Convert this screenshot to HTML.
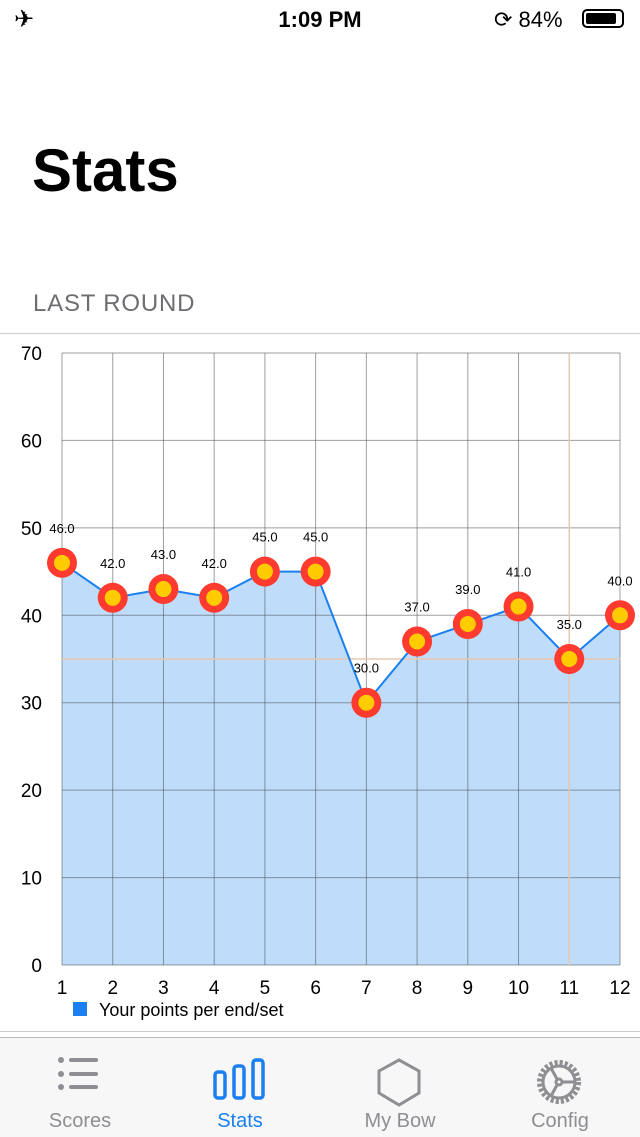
<!DOCTYPE html>
<html><head><meta charset="utf-8"><style>
body{margin:0;width:640px;height:1136px;background:#fff;font-family:"Liberation Sans",sans-serif;position:relative;overflow:hidden}
.abs{position:absolute}
</style></head><body>
<div class="abs" style="left:0;top:0;width:640px;height:40px">
 <div class="abs" style="left:14px;top:5px;font-size:24px">✈</div>
 <div class="abs" style="left:0;width:640px;top:7px;text-align:center;font-size:22px;font-weight:bold">1:09 PM</div>
 <div class="abs" style="left:494px;top:7px;font-size:22px">⟳ 84%</div>
 <div class="abs" style="left:582px;top:9px;width:42px;height:19px;border:2px solid #000;border-radius:5px;box-sizing:border-box"><div style="margin:2px;width:30px;height:11px;background:#000;border-radius:2px"></div></div>
</div>
<div class="abs" style="left:32px;top:136px;font-size:60px;font-weight:bold">Stats</div>
<div class="abs" style="left:33px;top:290px;font-size:24px;letter-spacing:0.8px;color:#6d6d72">LAST ROUND</div>
<div class="abs" style="left:0;top:333px;width:640px;height:1px;background:#ccc"></div>
<div class="abs" style="left:0;top:1031px;width:640px;height:1px;background:#ccc"></div>
<svg class="abs" style="left:0;top:334px" width="640" height="697" id="chart"></svg>
<div class="abs" style="left:0;top:1037px;width:640px;height:99px;background:#f7f7f7;border-top:1px solid #bbb">
 <div class="abs" style="left:20px;top:0;width:120px;height:99px">
  <svg class="abs" style="left:36px;top:18px" width="50" height="40"><g fill="#8e8e93"><circle cx="5" cy="4" r="3"/><circle cx="5" cy="18" r="3"/><circle cx="5" cy="31" r="3"/><rect x="13" y="2" width="29" height="4" rx="2"/><rect x="13" y="16" width="29" height="4" rx="2"/><rect x="13" y="29" width="29" height="4" rx="2"/></g></svg>
  <div class="abs" style="left:0;width:120px;top:72px;text-align:center;font-size:20px;color:#8e8e93">Scores</div></div>
 <div class="abs" style="left:180px;top:0;width:120px;height:99px">
  <svg class="abs" style="left:32px;top:20px" width="56" height="44"><g fill="none" stroke="#1a7ff0" stroke-width="3.5"><rect x="3" y="14" width="10" height="26" rx="3"/><rect x="22" y="8" width="10" height="32" rx="3"/><rect x="41" y="2" width="10" height="38" rx="3"/></g></svg>
  <div class="abs" style="left:0;width:120px;top:72px;text-align:center;font-size:20px;color:#1a7ff0">Stats</div></div>
 <div class="abs" style="left:340px;top:0;width:120px;height:99px">
  <svg class="abs" style="left:36px;top:20px" width="50" height="50"><polygon points="23,2 43,13 43,35 23,47 3,35 3,13" fill="none" stroke="#8e8e93" stroke-width="3"/></svg>
  <div class="abs" style="left:0;width:120px;top:72px;text-align:center;font-size:20px;color:#8e8e93">My Bow</div></div>
 <div class="abs" style="left:500px;top:0;width:120px;height:99px">
  <svg class="abs" style="left:34px;top:20px" width="50" height="50"><g fill="none" stroke="#8e8e93" stroke-width="3"><circle cx="25" cy="24" r="19" stroke-dasharray="3 2" stroke-width="6"/><circle cx="25" cy="24" r="16"/><circle cx="25" cy="24" r="3"/><line x1="28" y1="24" x2="41" y2="24"/><line x1="23" y1="21" x2="17" y2="10"/><line x1="23" y1="27" x2="17" y2="38"/></g></svg>
  <div class="abs" style="left:0;width:120px;top:72px;text-align:center;font-size:20px;color:#8e8e93">Config</div></div>
</div>
<script>
const categories=[1,2,3,4,5,6,7,8,9,10,11,12];
const values=[46,42,43,42,45,45,30,37,39,41,35,40];
const yTicks=[0,10,20,30,40,50,60,70];
const legendLabel="Your points per end/set";
const NS="http://www.w3.org/2000/svg";
const svg=document.getElementById('chart');
const L=62,R=620,T=19,B=631,yMax=70;
const x=i=>L+(R-L)*i/(categories.length-1);
const y=v=>B-(B-T)*v/yMax;
function mk(t,a){const e=document.createElementNS(NS,t);for(const k in a)e.setAttribute(k,a[k]);svg.appendChild(e);return e;}
let d=`M${x(0)},${B}`;values.forEach((v,i)=>d+=` L${x(i)},${y(v)}`);d+=` L${x(values.length-1)},${B} Z`;
const area=mk('path',{d:d,fill:'#bfdcfb'});


yTicks.forEach(t=>{const g=mk('line',{x1:L,x2:R,y1:y(t),y2:y(t),stroke:'rgba(80,80,80,0.55)','stroke-width':1});


const lb=mk('text',{x:42,y:y(t)+7,'text-anchor':'end','font-size':19,fill:'#000'});lb.textContent=t;

});
categories.forEach((c,i)=>{const g=mk('line',{x1:x(i),x2:x(i),y1:T,y2:B,stroke:'rgba(80,80,80,0.55)','stroke-width':1});


const lb=mk('text',{x:x(i),y:B+29,'text-anchor':'middle','font-size':19,fill:'#000'});lb.textContent=c;

});
const hi=10;
const h1=mk('line',{x1:L,x2:R,y1:y(values[hi]),y2:y(values[hi]),stroke:'#e8c9b0','stroke-width':1.5});


const h2=mk('line',{x1:x(hi),x2:x(hi),y1:T,y2:B,stroke:'#e8c9b0','stroke-width':1.5});


const line=mk('polyline',{points:values.map((v,i)=>x(i)+','+y(v)).join(' '),fill:'none',stroke:'#1a7ff0','stroke-width':2});


values.forEach((v,i)=>{
 const o=mk('circle',{cx:x(i),cy:y(v),r:15,fill:'#ff3b30'});
 
 
 const n=mk('circle',{cx:x(i),cy:y(v),r:8,fill:'#ffcc00'});
 
 
 const t=mk('text',{x:x(i),y:y(v)-30,'text-anchor':'middle','font-size':13,fill:'#000'});t.textContent=v.toFixed(1);
 
 
});
const ls=mk('rect',{x:73,y:668,width:14,height:14,fill:'#1a7ff0'});


const lt=mk('text',{x:99,y:682,'font-size':18,fill:'#000'});lt.textContent=legendLabel;


</script>
</body></html>
